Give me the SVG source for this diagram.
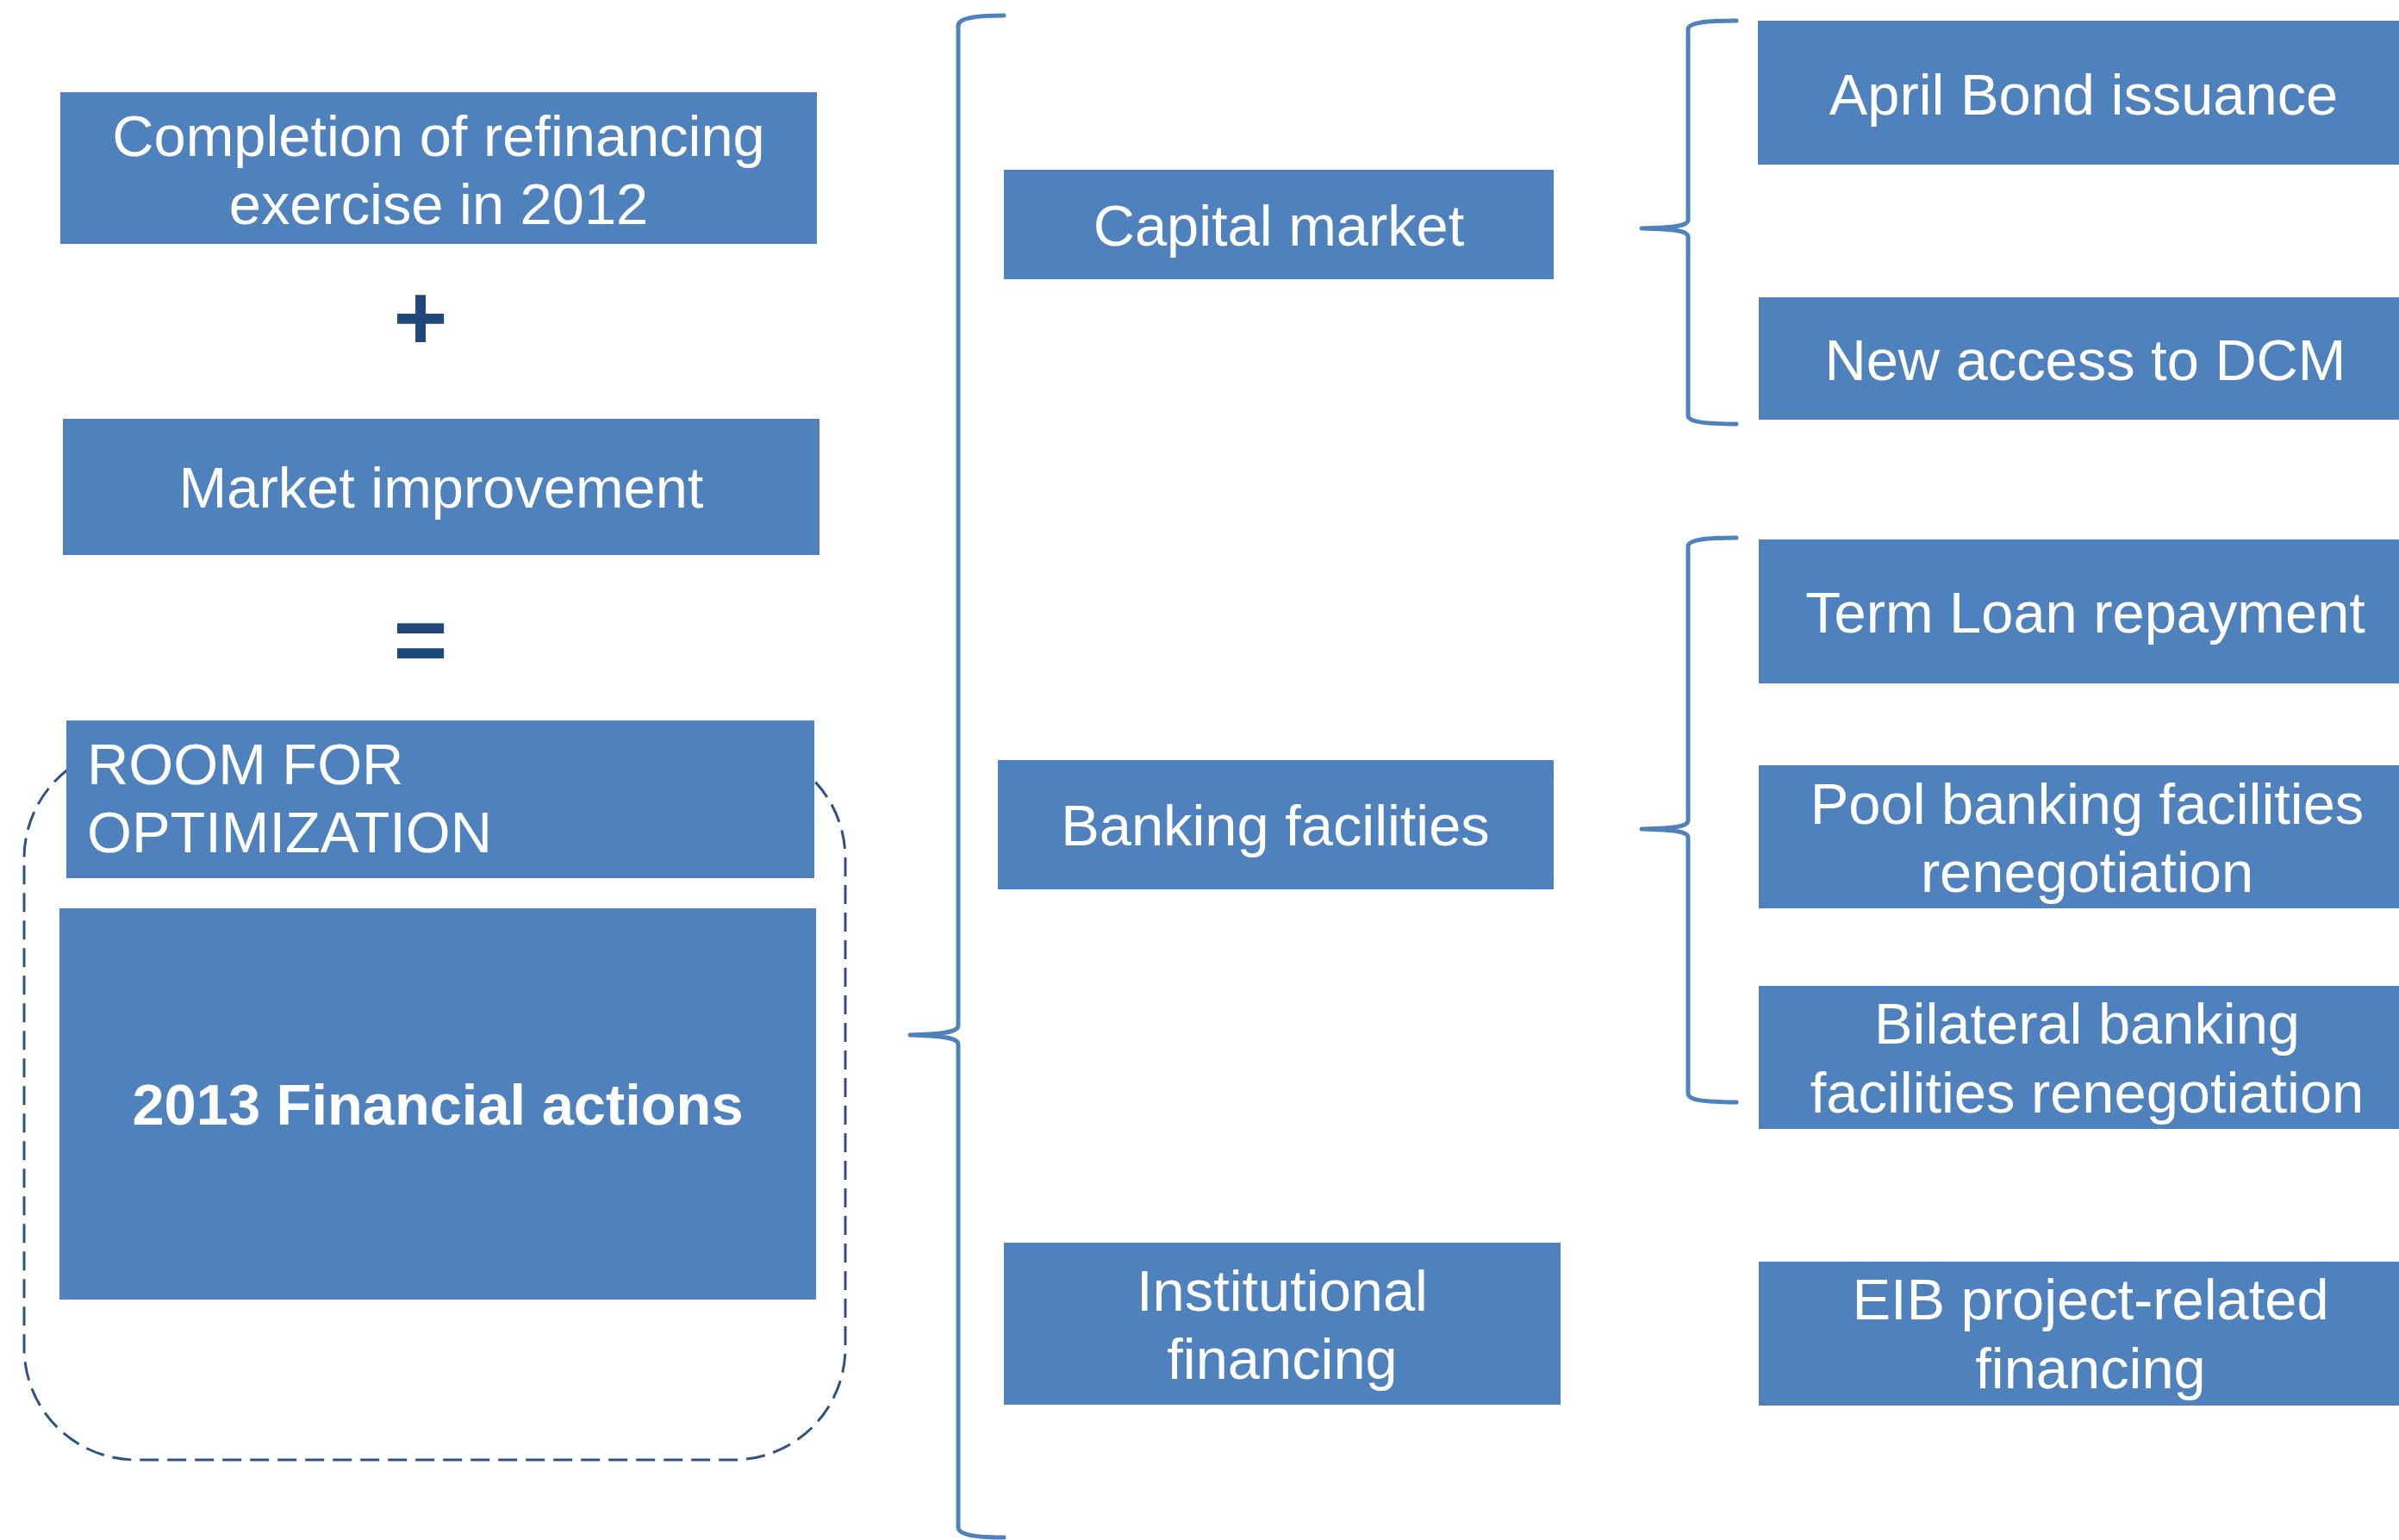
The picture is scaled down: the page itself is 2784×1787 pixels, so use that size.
<svg xmlns="http://www.w3.org/2000/svg" width="2784" height="1787" viewBox="0 0 2784 1787">
  <style>
    .box { fill: #4F81BD; }
    .lbl { font-family: "Liberation Sans", Arial, sans-serif; font-size: 66.8px; fill: #FFFFFF; }
    .mid { text-anchor: middle; }
    .bold { font-weight: bold; }
    .op { font-family: "Liberation Sans", Arial, sans-serif; font-weight: bold; font-size: 108px; fill: #1F497D; text-anchor: middle; }
    .brace { fill: none; stroke: #4F81BD; stroke-width: 5; stroke-linecap: round; stroke-linejoin: round; }
    .frame { fill: none; stroke: #2E5283; stroke-width: 3; stroke-dasharray: 22 10; }
  </style>
  <rect width="2784" height="1787" fill="#FFFFFF"/>

  <!-- dashed frame around the optimisation block -->
  <rect class="frame" x="28" y="866" width="953" height="828" rx="130" ry="130"/>

  <!-- left column -->
  <g id="completion">
    <rect class="box" x="70" y="107" width="878" height="176"/>
    <text class="lbl mid" x="509" y="181">Completion of refinancing</text>
    <text class="lbl mid" x="509" y="260">exercise in 2012</text>
  </g>
  <g id="plus">
    <text class="op" x="488" y="405">+</text>
  </g>
  <g id="market-improvement">
    <rect class="box" x="73" y="486" width="878" height="158"/>
    <text class="lbl mid" x="512" y="589">Market improvement</text>
  </g>
  <g id="equals">
    <text class="op" x="488" y="779">=</text>
  </g>
  <g id="room">
    <rect class="box" x="77" y="836" width="868" height="183"/>
    <text class="lbl" x="101" y="910">ROOM FOR</text>
    <text class="lbl" x="101" y="989">OPTIMIZATION</text>
  </g>
  <g id="financial-actions">
    <rect class="box" x="69" y="1054" width="878" height="454"/>
    <text class="lbl mid bold" x="508" y="1305">2013 Financial actions</text>
  </g>

  <!-- middle column -->
  <g id="capital-market">
    <rect class="box" x="1165" y="197" width="638" height="127"/>
    <text class="lbl mid" x="1484" y="285">Capital market</text>
  </g>
  <g id="banking-facilities">
    <rect class="box" x="1158" y="882" width="645" height="150"/>
    <text class="lbl mid" x="1480" y="981">Banking facilities</text>
  </g>
  <g id="institutional-financing">
    <rect class="box" x="1165" y="1442" width="646" height="188"/>
    <text class="lbl mid" x="1488" y="1521">Institutional</text>
    <text class="lbl mid" x="1488" y="1600">financing</text>
  </g>

  <!-- right column -->
  <g id="april-bond">
    <rect class="box" x="2040" y="24" width="760" height="167"/>
    <text class="lbl mid" x="2418" y="133">April Bond issuance</text>
  </g>
  <g id="dcm-access">
    <rect class="box" x="2041" y="345" width="760" height="142"/>
    <text class="lbl mid" x="2420" y="441">New access to DCM</text>
  </g>
  <g id="term-loan">
    <rect class="box" x="2041" y="626" width="760" height="167"/>
    <text class="lbl mid" x="2420" y="734">Term Loan repayment</text>
  </g>
  <g id="pool-banking">
    <rect class="box" x="2041" y="888" width="760" height="166"/>
    <text class="lbl mid" x="2422" y="956">Pool banking facilities</text>
    <text class="lbl mid" x="2422" y="1035">renegotiation</text>
  </g>
  <g id="bilateral-banking">
    <rect class="box" x="2041" y="1144" width="760" height="166"/>
    <text class="lbl mid" x="2422" y="1211">Bilateral banking</text>
    <text class="lbl mid" x="2422" y="1291">facilities renegotiation</text>
  </g>
  <g id="eib-financing">
    <rect class="box" x="2041" y="1464" width="760" height="167"/>
    <text class="lbl mid" x="2426" y="1531">EIB project-related</text>
    <text class="lbl mid" x="2426" y="1611">financing</text>
  </g>

  <!-- grouping braces -->
  <g id="connectors">
    <path class="brace" d="M1165,18 C1128,18 1112,22 1112,30 L1112,1190 C1112,1197 1098,1200 1056,1201 C1098,1202 1112,1205 1112,1212 L1112,1772 C1112,1780 1128,1784 1165,1784"/>
    <path class="brace" d="M2015,24 C1975,24 1959,27 1959,34 L1959,255 C1959,262 1945,264 1905,265 C1945,266 1959,268 1959,275 L1959,482 C1959,489 1975,492 2015,492"/>
    <path class="brace" d="M2015,624 C1975,624 1959,627 1959,634 L1959,952 C1959,959 1945,961 1905,962 C1945,963 1959,965 1959,972 L1959,1269 C1959,1276 1975,1279 2015,1279"/>
  </g>
</svg>
